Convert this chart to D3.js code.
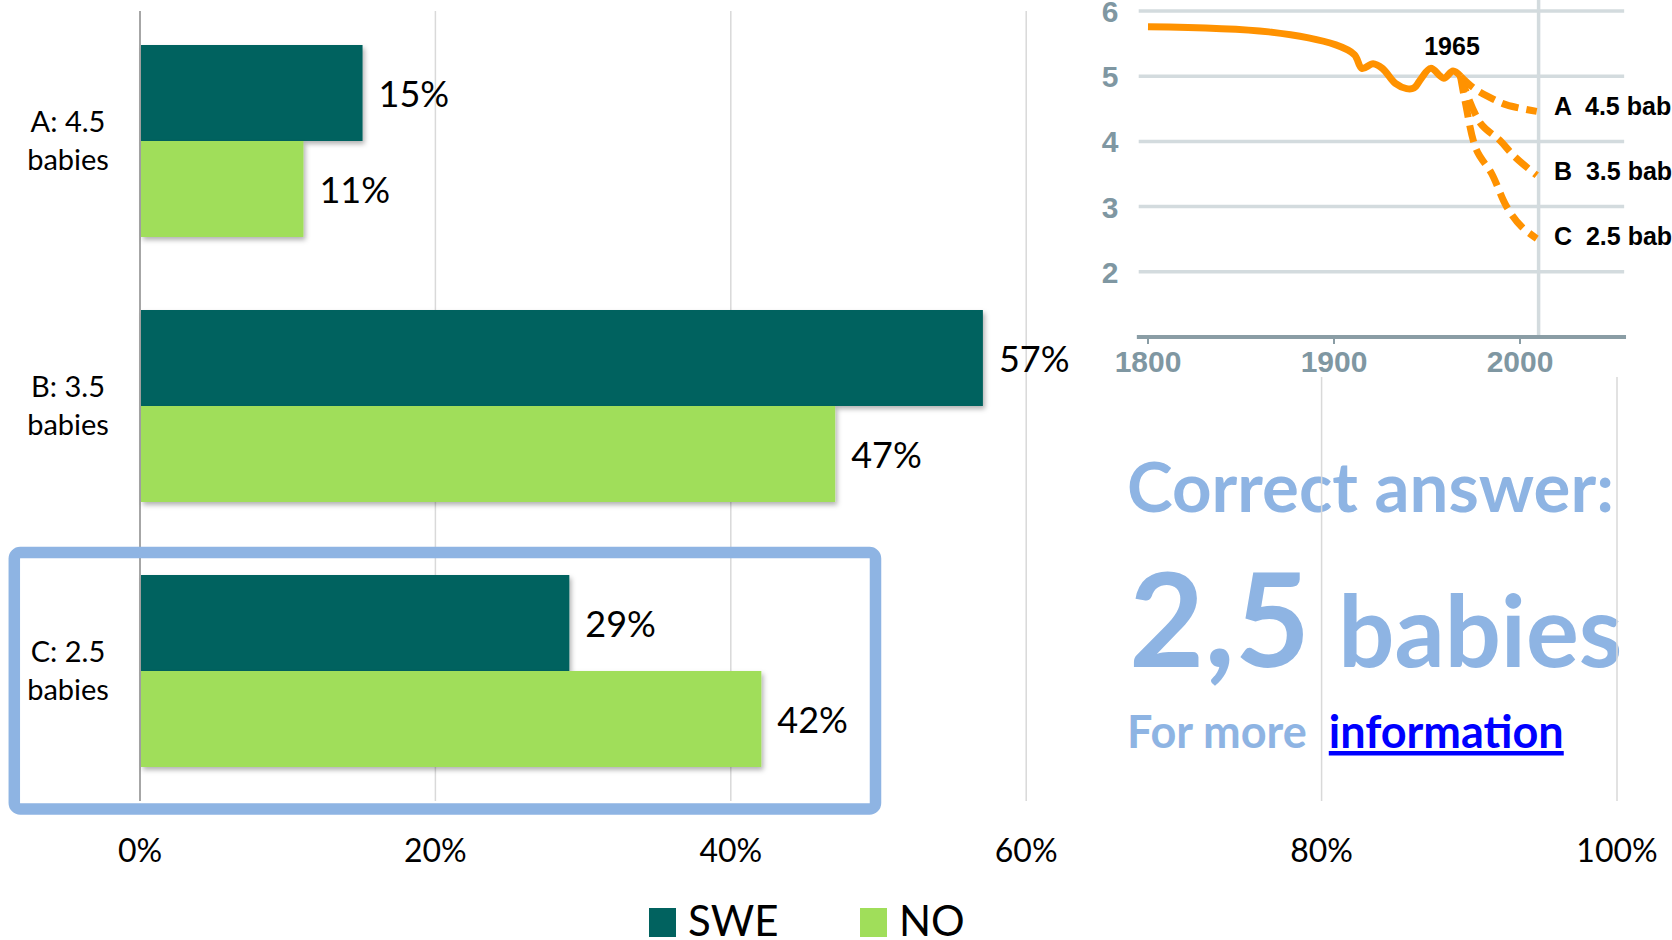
<!DOCTYPE html>
<html>
<head>
<meta charset="utf-8">
<script src="https://cdn.jsdelivr.net/npm/d3@7"></script>
<style>
  body { margin: 0; background: #fff; }
  svg { display: block; }
</style>
</head>
<body>
<div id="chart"></div>
<script>
// Data
const categories = ['A', 'B', 'C']
const categoryLines = [['A: 4.5', 'babies'], ['B: 3.5', 'babies'], ['C: 2.5', 'babies']]
const seriesNames = ['SWE', 'NO']
const sweValues = [0.15, 0.57, 0.29]
const noValues = [0.11, 0.47, 0.42]
const xTicks = [0, 0.2, 0.4, 0.6, 0.8, 1]

// inset: babies per woman
const historyYears = [1800, 1865, 1901, 1911, 1915, 1921, 1926, 1933, 1939, 1943, 1947, 1952, 1959, 1964, 1968]
const historyValues = [5.76, 5.68, 5.48, 5.33, 5.12, 5.19, 5.12, 4.89, 4.81, 4.82, 4.97, 5.12, 4.97, 5.08, 5.0]
const scenarioA = [[1968, 5.0], [1974.6, 4.83], [1982.7, 4.69], [1992.8, 4.56], [2009, 4.46]]
const scenarioB = [[1968, 5.0], [1978.7, 4.28], [1989, 4.02], [1997, 3.77], [2009, 3.48]]
const scenarioC = [[1968, 5.0], [1970.4, 4.63], [1976.6, 3.87], [1984.7, 3.51], [1992.8, 3.0], [2000.9, 2.69], [2009, 2.51]]
const scenarioLabels = ['A  4.5 babies', 'B  3.5 babies', 'C  2.5 babies']
const scenarioTargets = [4.5, 3.5, 2.5]
const insetYTicks = [2, 3, 4, 5, 6]
const insetXTicks = [1800, 1900, 2000]

const colors = { SWE: '#01625F', NO: '#A0DE5A' }
const answerBlue = '#8EB4E3'
const calibri = 'Lato, "Open Sans", sans-serif'
const arial = '"Liberation Sans", Arial, sans-serif'

const dimensions = { width: 1672, height: 940 }

const svg = d3.select('#chart')
  .append('svg')
  .attr('width', dimensions.width)
  .attr('height', dimensions.height)

const defs = svg.append('defs')
defs.append('filter')
  .attr('id', 'shadow')
  .attr('x', '-5%').attr('y', '-5%').attr('width', '115%').attr('height', '125%')
  .append('feDropShadow')
  .attr('dx', 2).attr('dy', 3).attr('stdDeviation', 2.5)
  .attr('flood-color', '#000').attr('flood-opacity', 0.3)

// Scales
const xScale = d3.scaleLinear().domain([0, 1]).range([140, 1617])
const yScale = d3.scaleBand()
  .domain(categories)
  .range([8.5, 803.5])
  .paddingInner(0.2755)
  .paddingOuter(0.13775)
const subScale = d3.scaleBand().domain(seriesNames).range([0, yScale.bandwidth()])

// Answer text (sits under the gridlines)
const answer = svg.append('g').attr('font-family', calibri).attr('font-weight', 700)
answer.append('text').attr('x', 1127).attr('y', 512)
  .attr('font-size', 69).attr('fill', answerBlue).text('Correct answer:')
const big = answer.append('text').attr('x', 1129).attr('y', 667).attr('fill', answerBlue)
big.append('tspan').attr('font-size', 130).text('2,5')
big.append('tspan').attr('font-size', 99).attr('dx', 28).text('babies')
const more = answer.append('text').attr('x', 1127).attr('y', 748).attr('font-size', 45)
more.append('tspan').attr('fill', answerBlue).text('For more')
more.append('tspan').attr('dx', 22).attr('fill', '#0000FF')
  .attr('text-decoration', 'underline').text('information')

// Gridlines
svg.append('g')
  .selectAll('line')
  .data(xTicks.slice(1))
  .join('line')
  .attr('x1', d => xScale(d)).attr('x2', d => xScale(d))
  .attr('y1', 11).attr('y2', 801)
  .attr('stroke', '#D9D9D9').attr('stroke-width', 1.5)

// Inset chart
const insetX = d3.scaleLinear().domain([1800, 2000]).range([1148, 1520])
const insetY = d3.scaleLinear().domain([1, 6]).range([337, 11])
const inset = svg.append('g')
inset.append('rect').attr('x', 1065).attr('y', 0).attr('width', 607).attr('height', 377).attr('fill', '#fff')

inset.append('g').selectAll('line')
  .data(insetYTicks)
  .join('line')
  .attr('x1', insetX(1795)).attr('x2', insetX(2056))
  .attr('y1', d => insetY(d)).attr('y2', d => insetY(d))
  .attr('stroke', '#D3DBDE').attr('stroke-width', 3.5)

inset.append('line')
  .attr('x1', insetX(2010)).attr('x2', insetX(2010))
  .attr('y1', 0).attr('y2', insetY(1))
  .attr('stroke', '#D3DBDE').attr('stroke-width', 3.5)

inset.append('line')
  .attr('x1', insetX(1794)).attr('x2', insetX(2057))
  .attr('y1', insetY(1)).attr('y2', insetY(1))
  .attr('stroke', '#8A9DA5').attr('stroke-width', 4)

inset.append('g').selectAll('line')
  .data(insetXTicks)
  .join('line')
  .attr('x1', d => insetX(d)).attr('x2', d => insetX(d))
  .attr('y1', insetY(1)).attr('y2', insetY(1) + 7)
  .attr('stroke', '#8A9DA5').attr('stroke-width', 2)

inset.append('g')
  .attr('font-family', arial).attr('font-weight', 700).attr('fill', '#7F97A2')
  .attr('font-size', 30).attr('text-anchor', 'middle')
  .selectAll('text')
  .data(insetYTicks)
  .join('text')
  .attr('x', 1110).attr('y', d => insetY(d) + 11)
  .text(d => d)

inset.append('g')
  .attr('font-family', arial).attr('font-weight', 700).attr('fill', '#7F97A2')
  .attr('font-size', 30).attr('text-anchor', 'middle')
  .selectAll('text')
  .data(insetXTicks)
  .join('text')
  .attr('x', d => insetX(d)).attr('y', 372)
  .text(d => d)

const lineGen = d3.line()
  .x(d => insetX(d[0]))
  .y(d => insetY(d[1]))
  .curve(d3.curveCatmullRom)

inset.append('path')
  .datum(historyYears.map((y, i) => [y, historyValues[i]]))
  .attr('d', lineGen)
  .attr('fill', 'none').attr('stroke', '#FF9200').attr('stroke-width', 7)
  .attr('stroke-linejoin', 'round')

inset.append('g').selectAll('path')
  .data([scenarioA, scenarioB, scenarioC])
  .join('path')
  .attr('d', lineGen)
  .attr('fill', 'none').attr('stroke', '#FF9200').attr('stroke-width', 7)
  .attr('stroke-dasharray', '17 8')

inset.append('text')
  .attr('x', 1452).attr('y', 55)
  .attr('font-family', arial).attr('font-weight', 700).attr('font-size', 25)
  .attr('text-anchor', 'middle').text('1965')

inset.append('g')
  .attr('font-family', arial).attr('font-weight', 700).attr('font-size', 25)
  .selectAll('text')
  .data(scenarioTargets)
  .join('text')
  .attr('x', 1554)
  .attr('y', d => insetY(d) + 6)
  .attr('xml:space', 'preserve')
  .style('white-space', 'pre')
  .text((d, i) => scenarioLabels[i])

// Axes lines
svg.append('line')
  .attr('x1', 140).attr('x2', 1617).attr('y1', 801).attr('y2', 801)
  .attr('stroke', '#888').attr('stroke-width', 2)
  .attr('filter', 'url(#shadow)')
svg.append('line')
  .attr('x1', 140).attr('x2', 140).attr('y1', 11).attr('y2', 801)
  .attr('stroke', '#888').attr('stroke-width', 1.5)

// Bars
const rows = categories.map((c, i) => ({ cat: c, values: [sweValues[i], noValues[i]] }))

const groups = svg.append('g')
  .selectAll('g')
  .data(rows)
  .join('g')
  .attr('transform', d => `translate(0, ${yScale(d.cat)})`)

groups.selectAll('rect')
  .data(d => d.values.map((v, i) => ({ key: seriesNames[i], value: v })))
  .join('rect')
  .attr('x', xScale(0) + 1)
  .attr('y', d => subScale(d.key))
  .attr('width', d => xScale(d.value) - xScale(0))
  .attr('height', subScale.bandwidth())
  .attr('fill', d => colors[d.key])
  .attr('filter', 'url(#shadow)')

groups.selectAll('text')
  .data(d => d.values.map((v, i) => ({ key: seriesNames[i], value: v })))
  .join('text')
  .attr('x', d => xScale(d.value) + 17)
  .attr('y', d => subScale(d.key) + subScale.bandwidth() / 2 + 14)
  .attr('font-family', calibri).attr('font-size', 36)
  .text(d => d3.format('.0%')(d.value))

// Category labels
svg.append('g')
  .attr('font-family', calibri).attr('font-size', 29).attr('text-anchor', 'middle')
  .selectAll('text')
  .data(categories)
  .join('text')
  .attr('transform', d => `translate(68, ${yScale(d) + yScale.bandwidth() / 2})`)
  .selectAll('tspan')
  .data((d, i) => categoryLines[i].map((t, j) => ({ t, j })))
  .join('tspan')
  .attr('x', 0)
  .attr('y', d => d.j === 0 ? -9 : 29)
  .text(d => d.t)

// X tick labels
svg.append('g')
  .attr('font-family', calibri).attr('font-size', 32).attr('text-anchor', 'middle')
  .selectAll('text')
  .data(xTicks)
  .join('text')
  .attr('x', d => xScale(d)).attr('y', 862)
  .text(d => d3.format('.0%')(d))

// Highlight box around the correct answer
svg.append('rect')
  .attr('x', 14.3).attr('y', 552.5)
  .attr('width', 861.2).attr('height', 256.5)
  .attr('rx', 6)
  .attr('fill', 'none').attr('stroke', answerBlue).attr('stroke-width', 11.5)

// Legend
const legend = svg.append('g')
  .selectAll('g')
  .data(seriesNames)
  .join('g')
  .attr('transform', (d, i) => `translate(${[649, 860][i]}, 908)`)
legend.append('rect')
  .attr('width', 27).attr('height', 29)
  .attr('fill', d => colors[d])
legend.append('text')
  .attr('x', 39).attr('y', 28)
  .attr('font-family', calibri).attr('font-size', 42)
  .text(d => d)
</script>
</body>
</html>
